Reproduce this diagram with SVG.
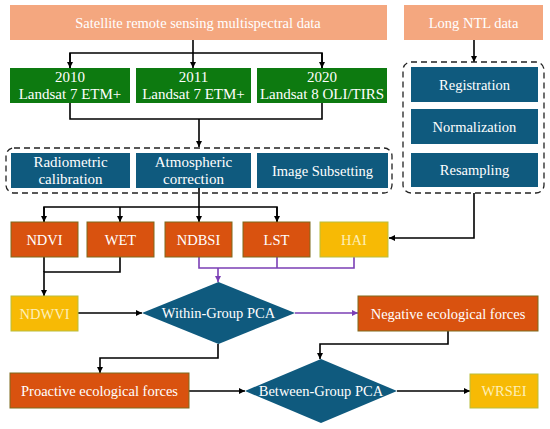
<svg xmlns="http://www.w3.org/2000/svg" width="550" height="429" viewBox="0 0 550 429" font-family="'Liberation Serif', 'Times New Roman', 'DejaVu Serif', serif" font-size="14.5">
<style>
text{fill:#fff;text-anchor:middle;dominant-baseline:central}
.g15 text{font-size:15px}
.sal{fill:#F4A77F}
.grn{fill:#0D7A10}
.blu{fill:#0F5A7E}
.org{fill:#D9520F;stroke:#7E6A1C;stroke-width:1}
.yel{fill:#F7BA05;stroke:#B9BE3C;stroke-width:1}
.yt{fill:#FDEFB8}
.dash{fill:none;stroke:#222;stroke-width:1.3;stroke-dasharray:6,4}
.k{fill:none;stroke:#000;stroke-width:1.6}
.p{fill:none;stroke:#7B3FB5;stroke-width:1.6}
</style>
<defs>
<marker id="ak" viewBox="0 0 10 10" refX="10" refY="5" markerWidth="6" markerHeight="6" orient="auto" markerUnits="userSpaceOnUse"><path d="M0,0L10,5L0,10z" fill="#000"/></marker>
<marker id="ap" viewBox="0 0 10 10" refX="10" refY="5" markerWidth="6" markerHeight="6" orient="auto" markerUnits="userSpaceOnUse"><path d="M0,0L10,5L0,10z" fill="#7B3FB5"/></marker>
</defs>
<rect width="550" height="429" fill="#fff"/>
<g id="connectors">
<path class="k" d="M193,40V68" marker-end="url(#ak)"/>
<path class="k" d="M70,68V53H322V68" />
<path class="k" d="M70,53V68" marker-end="url(#ak)"/>
<path class="k" d="M322,53V68" marker-end="url(#ak)"/>
<path class="k" d="M70,103V119H322V103"/>
<path class="k" d="M199,119V147" marker-end="url(#ak)"/>
<path class="k" d="M474,40V62" marker-end="url(#ak)"/>
<path class="k" d="M199,188V222" marker-end="url(#ak)"/>
<path class="k" d="M44,222V207H277V222"/>
<path class="k" d="M44,207V222" marker-end="url(#ak)"/>
<path class="k" d="M120,207V222" marker-end="url(#ak)"/>
<path class="k" d="M277,207V222" marker-end="url(#ak)"/>
<path class="k" d="M474,193V238H389" marker-end="url(#ak)"/>
<path class="p" d="M199,257V268H354V257M277,257V268"/>
<path class="p" d="M218,268V282" marker-end="url(#ap)"/>
<path class="k" d="M120,257V272H44V296" marker-end="url(#ak)"/>
<path class="k" d="M44,257V272"/>
<path class="k" d="M78,313H142" marker-end="url(#ak)"/>
<path class="p" d="M295,313H358" marker-end="url(#ap)"/>
<path class="k" d="M218,344V358H100V373" marker-end="url(#ak)"/>
<path class="k" d="M448,331V344H320V359" marker-end="url(#ak)"/>
<path class="k" d="M189,391H245" marker-end="url(#ak)"/>
<path class="k" d="M397,391H470" marker-end="url(#ak)"/>
</g>
<g id="satellite"><rect class="sal" x="10" y="5" width="377" height="35"/><text x="198" y="22.5">Satellite remote sensing multispectral data</text></g>
<g id="ntl"><rect class="sal" x="404" y="5" width="139" height="35"/><text x="473.5" y="22.5">Long NTL data</text></g>
<g id="y2010" class="g15"><rect class="grn" x="10" y="68" width="120" height="35"/><text x="70" y="77">2010</text><text x="70" y="94">Landsat 7 ETM+</text></g>
<g id="y2011" class="g15"><rect class="grn" x="136" y="68" width="115" height="35"/><text x="193.5" y="77">2011</text><text x="193.5" y="94">Landsat 7 ETM+</text></g>
<g id="y2020" class="g15"><rect class="grn" x="257" y="68" width="130" height="35"/><text x="322" y="77">2020</text><text x="322" y="94">Landsat 8 OLI/TIRS</text></g>
<g id="preprocess"><rect class="dash" x="6" y="148" width="386" height="45" rx="8"/></g>
<g id="radiometric" class="g15"><rect class="blu" x="11" y="153" width="119" height="35"/><text x="70.5" y="162">Radiometric</text><text x="70.5" y="179">calibration</text></g>
<g id="atmospheric" class="g15"><rect class="blu" x="136" y="153" width="115" height="35"/><text x="193.5" y="162">Atmospheric</text><text x="193.5" y="179">correction</text></g>
<g id="subsetting"><rect class="blu" x="257" y="153" width="131" height="35"/><text x="322.5" y="170.5">Image Subsetting</text></g>
<g id="ntlprocess"><rect class="dash" x="403" y="62" width="141" height="131" rx="8"/></g>
<g id="registration"><rect class="blu" x="411" y="67" width="127" height="35"/><text x="474.5" y="84.5">Registration</text></g>
<g id="normalization"><rect class="blu" x="411" y="109" width="127" height="35"/><text x="474.5" y="126.5">Normalization</text></g>
<g id="resampling"><rect class="blu" x="411" y="153" width="127" height="34"/><text x="474.5" y="170">Resampling</text></g>
<g id="ndvi"><rect class="org" x="11" y="222" width="67" height="35"/><text x="44.5" y="239.5">NDVI</text></g>
<g id="wet"><rect class="org" x="87" y="222" width="67" height="35"/><text x="120.5" y="239.5">WET</text></g>
<g id="ndbsi"><rect class="org" x="165" y="222" width="67" height="35"/><text x="198.5" y="239.5">NDBSI</text></g>
<g id="lst"><rect class="org" x="243" y="222" width="67" height="35"/><text x="276.5" y="239.5">LST</text></g>
<g id="hai"><rect class="yel" x="320" y="222" width="68" height="35"/><text class="yt" x="354" y="239.5">HAI</text></g>
<g id="ndwvi"><rect class="yel" x="11" y="296" width="67" height="35"/><text class="yt" x="44.5" y="313.5">NDWVI</text></g>
<g id="withinpca"><polygon class="blu" points="218.5,282 295,313 218.5,344 142,313"/><text x="218.5" y="313">Within-Group PCA</text></g>
<g id="negative"><rect class="org" x="358" y="296" width="180" height="35"/><text x="448" y="313.5">Negative ecological forces</text></g>
<g id="proactive"><rect class="org" x="10" y="373" width="179" height="35"/><text x="99.5" y="390.5">Proactive ecological forces</text></g>
<g id="betweenpca"><polygon class="blu" points="321,359 397,391 321,423 245,391"/><text x="321" y="391">Between-Group PCA</text></g>
<g id="wrsei"><rect class="yel" x="470" y="374" width="68" height="34"/><text class="yt" x="504" y="391">WRSEI</text></g>
</svg>
